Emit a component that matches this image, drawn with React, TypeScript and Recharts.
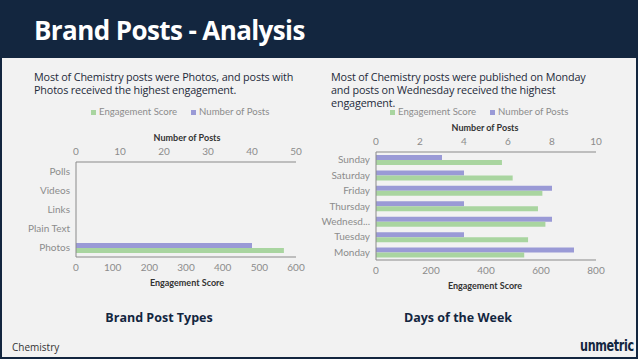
import { BarChart, Bar, XAxis, YAxis } from "recharts"

// post types (top to bottom as shown)
const postTypes = ["Polls", "Videos", "Links", "Plain Text", "Photos"]
const postTypePosts = [0, 0, 0, 0, 40]
const postTypeScore = [0, 0, 0, 0, 567]
const postTypePostTicks = [0, 10, 20, 30, 40, 50]
const postTypeScoreTicks = [0, 100, 200, 300, 400, 500, 600]

// days (top to bottom as shown)
const days = ["Sunday", "Saturday", "Friday", "Thursday", "Wednesday", "Tuesday", "Monday"]
const dayPosts = [3, 4, 8, 4, 8, 4, 9]
const dayScore = [458, 497, 605, 589, 616, 553, 539]
const dayPostTicks = [0, 2, 4, 6, 8, 10]
const dayScoreTicks = [0, 200, 400, 600, 800]

const seriesNames = ["Engagement Score", "Number of Posts"]
const seriesColors = ["#a9d5a0", "#9a9ad6"]

const NAVY = "#13263f"
const TICK = "#8c8c8c"
const AXIS = "#8a8a8a"
const chartFont = "Lato, 'Open Sans', sans-serif"

const postTypeData = postTypes.map((name, i) => ({
  name,
  posts: postTypePosts[i],
  score: postTypeScore[i],
}))

const dayData = days.map((name, i) => ({
  name,
  posts: dayPosts[i],
  score: dayScore[i],
}))

// single line category tick, cut like excel does when it does not fit
function makeCatTick(maxChars: number) {
  return function CatTick(props: any) {
    const { x, y, payload } = props
    const v = String(payload.value)
    const label = v.length > maxChars ? v.slice(0, 7) + "..." : v
    return (
      <text x={x} y={y} dy="0.35em" textAnchor="end" fill={TICK} fontSize={10} fontFamily={chartFont}>
        {label}
      </text>
    )
  }
}

function MiniLegend({ left, top }: { left: number; top: number }) {
  return (
    <div
      style={{
        position: "absolute",
        left,
        top,
        display: "flex",
        gap: 14,
        fontFamily: chartFont,
        fontSize: 9.6,
        color: TICK,
        lineHeight: "10px",
        whiteSpace: "nowrap",
      }}
    >
      {seriesNames.map((s, i) => (
        <div key={s} style={{ display: "flex", alignItems: "center", gap: 3 }}>
          <div style={{ width: 5, height: 5, background: seriesColors[i] }} />
          <span>{s}</span>
        </div>
      ))}
    </div>
  )
}

function AxisTitle({ x, y, text }: { x: number; y: number; text: string }) {
  return (
    <div
      style={{
        position: "absolute",
        left: x - 60,
        top: y - 6,
        width: 120,
        textAlign: "center",
        fontFamily: chartFont,
        fontWeight: 700,
        fontSize: 9,
        color: "#333",
        lineHeight: "12px",
      }}
    >
      {text}
    </div>
  )
}

interface PanelProps {
  data: any[]
  left: number
  top: number
  plotHeight: number
  postMax: number
  scoreMax: number
  postTicks: number[]
  scoreTicks: number[]
  maxChars: number
}

function Panel({ data, left, top, plotHeight, postMax, scoreMax, postTicks, scoreTicks, maxChars }: PanelProps) {
  const tick = { fill: TICK, fontSize: 10, fontFamily: chartFont }
  const CatTick = makeCatTick(maxChars)
  return (
    <div style={{ position: "absolute", left, top }}>
      <BarChart
        width={290}
        height={22 + plotHeight + 20}
        data={data}
        layout="vertical"
        margin={{ top: 0, right: 14, bottom: 0, left: 0 }}
        barGap={0}
      >
        <XAxis
          xAxisId="posts"
          type="number"
          orientation="top"
          domain={[0, postMax]}
          ticks={postTicks}
          height={22}
          tickLine={false}
          tickSize={0}
          tickMargin={7}
          axisLine={{ stroke: AXIS }}
          tick={tick}
        />
        <XAxis
          xAxisId="score"
          type="number"
          orientation="bottom"
          domain={[0, scoreMax]}
          ticks={scoreTicks}
          height={20}
          tickLine={false}
          tickSize={0}
          tickMargin={7}
          axisLine={{ stroke: AXIS }}
          tick={tick}
        />
        <YAxis
          type="category"
          dataKey="name"
          width={56}
          tickLine={false}
          tickSize={0}
          tickMargin={6}
          axisLine={{ stroke: AXIS }}
          tick={<CatTick />}
          interval={0}
        />
        <Bar xAxisId="posts" dataKey="posts" fill={seriesColors[1]} barSize={5} isAnimationActive={false} />
        <Bar xAxisId="score" dataKey="score" fill={seriesColors[0]} barSize={5} isAnimationActive={false} />
      </BarChart>
    </div>
  )
}

export default function App() {
  const bodyText = {
    position: "absolute" as const,
    fontFamily: "'Open Sans', sans-serif",
    fontSize: 10.8,
    letterSpacing: -0.15,
    lineHeight: "13px",
    color: "#1e2a3a",
    whiteSpace: "nowrap" as const,
  }
  const footTitle = {
    position: "absolute" as const,
    top: 309,
    width: 200,
    textAlign: "center" as const,
    fontFamily: "'Open Sans', sans-serif",
    fontWeight: 700,
    fontSize: 12.5,
    color: NAVY,
  }
  return (
    <div
      style={{
        position: "relative",
        width: 638,
        height: 359,
        boxSizing: "border-box",
        background: "#f2f2f2",
        borderLeft: `2px solid ${NAVY}`,
        borderRight: `2px solid ${NAVY}`,
        borderBottom: `2px solid ${NAVY}`,
        overflow: "hidden",
      }}
    >
      <style>{`body{margin:0}`}</style>
      <div
        style={{
          position: "absolute",
          left: -2,
          top: 0,
          width: 638,
          height: 58,
          background: NAVY,
        }}
      />
      <div
        style={{
          position: "absolute",
          left: 32,
          top: 13,
          fontFamily: "'Open Sans', sans-serif",
          fontWeight: 700,
          fontSize: 26,
          letterSpacing: -0.6,
          color: "#fff",
          lineHeight: "34px",
        }}
      >
        Brand Posts - Analysis
      </div>

      <div style={{ ...bodyText, left: 32, top: 70 }}>
        Most of Chemistry posts were Photos, and posts with
        <br />
        Photos received the highest engagement.
      </div>
      <div style={{ ...bodyText, left: 329, top: 70 }}>
        Most of Chemistry posts were published on Monday
        <br />
        and posts on Wednesday received the highest
        <br />
        engagement.
      </div>

      <MiniLegend left={89} top={107} />
      <AxisTitle x={185} y={138} text="Number of Posts" />
      <Panel
        data={postTypeData}
        left={18}
        top={140}
        plotHeight={95}
        postMax={50}
        scoreMax={600}
        postTicks={postTypePostTicks}
        scoreTicks={postTypeScoreTicks}
        maxChars={12}
      />
      <AxisTitle x={185} y={283} text="Engagement Score" />

      <MiniLegend left={388} top={107} />
      <AxisTitle x={483} y={128} text="Number of Posts" />
      <Panel
        data={dayData}
        left={318}
        top={130}
        plotHeight={108}
        postMax={10}
        scoreMax={800}
        postTicks={dayPostTicks}
        scoreTicks={dayScoreTicks}
        maxChars={8}
      />
      <AxisTitle x={483} y={286} text="Engagement Score" />

      <div style={{ ...footTitle, left: 57 }}>Brand Post Types</div>
      <div style={{ ...footTitle, left: 356 }}>Days of the Week</div>
      <div
        style={{
          position: "absolute",
          left: 10,
          top: 340,
          fontFamily: "'Open Sans', sans-serif",
          fontSize: 10,
          color: "#333",
        }}
      >
        Chemistry
      </div>
      <div
        style={{
          position: "absolute",
          right: 2,
          top: 336,
          fontFamily: "'DejaVu Sans', sans-serif",
          fontWeight: 700,
          fontSize: 16,
          letterSpacing: -0.5,
          color: NAVY,
          transform: "scaleX(0.7)",
          transformOrigin: "right center",
        }}
      >
        unmetric
      </div>
    </div>
  )
}
